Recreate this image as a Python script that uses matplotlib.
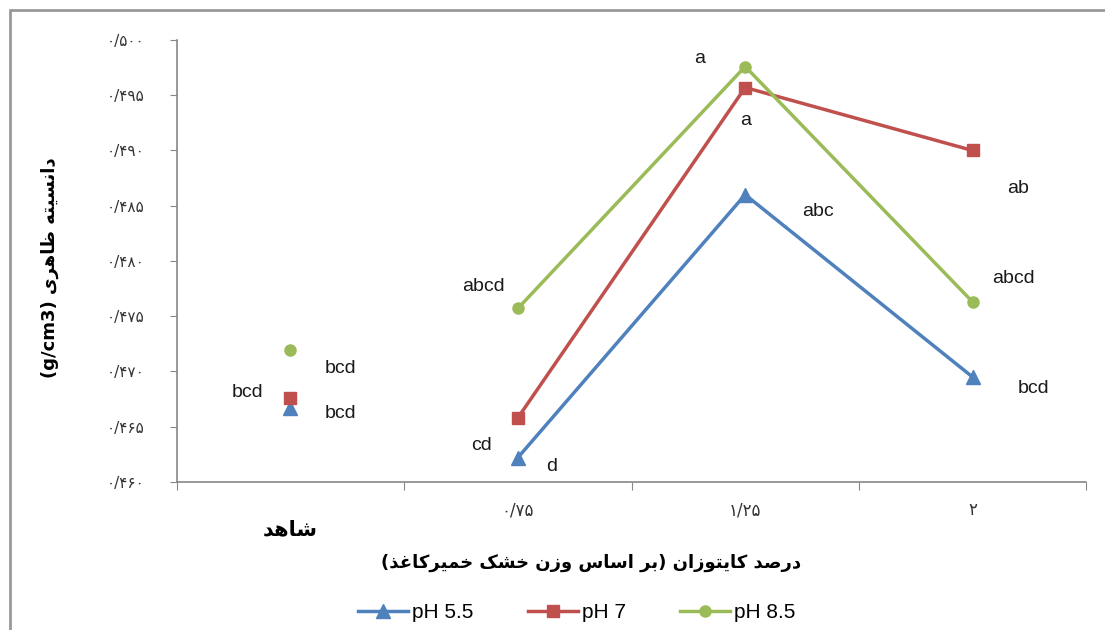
import matplotlib
matplotlib.use("Agg")
import matplotlib.pyplot as plt
from matplotlib.patches import Rectangle

# data
categories = ["شاهد", "۰/۷۵", "۱/۲۵", "۲"]
series_names = ["pH 5.5", "pH 7", "pH 8.5"]
ph55 = [0.4667, 0.4622, 0.4860, 0.4695]
ph7 = [0.4676, 0.4658, 0.4957, 0.4900]
ph85 = [0.4719, 0.4757, 0.4976, 0.4763]
letters55 = ["bcd", "d", "abc", "bcd"]
letters7 = ["bcd", "cd", "a", "ab"]
letters85 = ["bcd", "abcd", "a", "abcd"]
yticks = [0.460, 0.465, 0.470, 0.475, 0.480, 0.485, 0.490, 0.495, 0.500]
xlabel = "درصد کایتوزان (بر اساس وزن خشک خمیرکاغذ)"
ylabel_fa = "دانسیته ظاهری"
ylabel_unit = "(g/cm3)"

# minimal Persian shaping: (isolated, final, initial, medial)
FORMS = {
    "ا": (0xFE8D, 0xFE8E, None, None), "ب": (0xFE8F, 0xFE90, 0xFE91, 0xFE92),
    "ت": (0xFE95, 0xFE96, 0xFE97, 0xFE98), "خ": (0xFEA5, 0xFEA6, 0xFEA7, 0xFEA8),
    "د": (0xFEA9, 0xFEAA, None, None), "ذ": (0xFEAB, 0xFEAC, None, None),
    "ر": (0xFEAD, 0xFEAE, None, None), "ز": (0xFEAF, 0xFEB0, None, None),
    "س": (0xFEB1, 0xFEB2, 0xFEB3, 0xFEB4), "ش": (0xFEB5, 0xFEB6, 0xFEB7, 0xFEB8),
    "ص": (0xFEB9, 0xFEBA, 0xFEBB, 0xFEBC), "ظ": (0xFEC5, 0xFEC6, 0xFEC7, 0xFEC8),
    "غ": (0xFECD, 0xFECE, 0xFECF, 0xFED0), "م": (0xFEE1, 0xFEE2, 0xFEE3, 0xFEE4),
    "ن": (0xFEE5, 0xFEE6, 0xFEE7, 0xFEE8), "ه": (0xFEE9, 0xFEEA, 0xFEEB, 0xFEEC),
    "و": (0xFEED, 0xFEEE, None, None), "ی": (0xFBFC, 0xFBFD, 0xFBFE, 0xFBFF),
    "ک": (0xFB8E, 0xFB8F, 0xFB90, 0xFB91),
}


def shape(text):
    out = []
    for i, ch in enumerate(text):
        if ch not in FORMS:
            out.append(ch)
            continue
        prev = text[i - 1] if i > 0 else ""
        nxt = text[i + 1] if i + 1 < len(text) else ""
        join_prev = prev in FORMS and FORMS[prev][2] is not None
        join_next = FORMS[ch][2] is not None and nxt in FORMS
        iso, fin, ini, med = FORMS[ch]
        if join_prev and join_next:
            code = med
        elif join_prev:
            code = fin
        elif join_next:
            code = ini
        else:
            code = iso
        out.append(chr(code))
    vis = "".join(out)[::-1]
    return vis.translate(str.maketrans("()", ")("))


def fa_num(v):
    s = f"{v:.3f}".replace(".", "/")
    return s.translate(str.maketrans("0123456789", "۰۱۲۳۴۵۶۷۸۹"))


plt.rcParams["font.family"] = ["DejaVu Sans"]
fig = plt.figure(figsize=(11.05, 6.3), dpi=100)
ax = fig.add_axes([0.160, 0.235, 0.823, 0.7015])

colors = ["#4F81BD", "#C0504D", "#9BBB59"]
markers = ["^", "s", "o"]
msizes = [10, 9, 8]
all_series = [ph55, ph7, ph85]
x = list(range(len(categories)))

for vals, name, c, m, ms in zip(all_series, series_names, colors, markers, msizes):
    ax.plot(x[1:], vals[1:], color=c, lw=2.5, marker=m, ms=ms, label=name)
    ax.plot(x[0], vals[0], color=c, marker=m, ms=ms, ls="none")

# significance letters
lab_font = dict(fontsize=14, family="Liberation Sans", color="#1a1a1a")
offsets55 = [(0.22, -0.0005), (0.15, -0.0008), (0.32, -0.0015), (0.27, -0.0010)]
offsets7 = [(-0.19, 0.0005), (-0.16, -0.0025), (0.00, -0.0030), (0.20, -0.0034)]
offsets85 = [(0.22, -0.0016), (-0.15, 0.0020), (-0.20, 0.0007), (0.18, 0.0021)]
for vals, labs, offs in [(ph55, letters55, offsets55), (ph7, letters7, offsets7), (ph85, letters85, offsets85)]:
    for xi, v, lab, (dx, dy) in zip(x, vals, labs, offs):
        ax.text(xi + dx, v + dy, lab, ha="center", va="center", **lab_font)

ax.set_xlim(-0.5, 3.5)
ax.set_ylim(0.460, 0.500)
ax.set_yticks(yticks)
ax.set_yticklabels([fa_num(t) for t in yticks], fontsize=11, color="#333333")
ax.set_xticks([-0.5, 0.5, 1.5, 2.5, 3.5])
ax.set_xticklabels([])
ax.set_xticks(x[1:], [c for c in categories[1:]], minor=True)
ax.tick_params(axis="x", which="minor", length=0, labelsize=12, pad=14, labelcolor="#333333")
ax.tick_params(axis="x", which="major", length=6, direction="out", color="#888888")
ax.tick_params(axis="y", length=5, direction="out", color="#888888", pad=18)
ax.text(0, 0.4557, shape(categories[0]), ha="center", va="center",
        fontsize=15, fontweight="bold")

for s in ["top", "right"]:
    ax.spines[s].set_visible(False)
for s in ["left", "bottom"]:
    ax.spines[s].set_color("#888888")
    ax.spines[s].set_linewidth(1.2)

fig.text(0.535, 0.106, shape(xlabel), ha="center", va="center",
         fontsize=13, fontweight="bold")
fig.text(0.045, 0.575, ylabel_unit + " " + shape(ylabel_fa), ha="center", va="center",
         rotation=90, fontsize=13, fontweight="bold")

ax.legend(loc="upper center", bbox_to_anchor=(0.44, -0.232), ncol=3, frameon=False,
          prop={"family": "Liberation Sans", "size": 15}, handlelength=2.4,
          columnspacing=2.6, handletextpad=0.2)

fig.patches.append(Rectangle((10 / 1105, -0.1), 1.2, 1.1 - 10 / 630, transform=fig.transFigure,
                             fill=False, edgecolor="#999999", lw=2))

fig.savefig("out.png", dpi=100)
